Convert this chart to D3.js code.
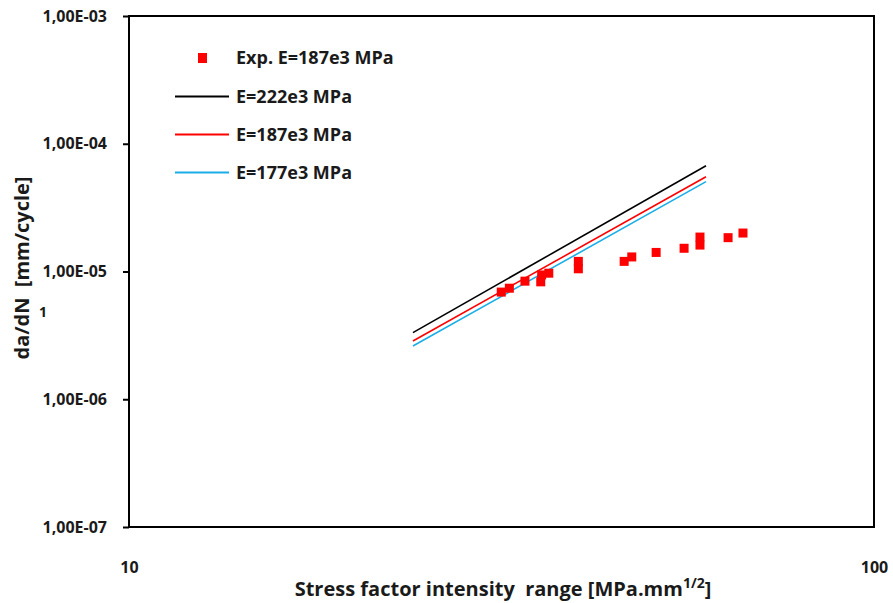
<!DOCTYPE html>
<html>
<head>
<meta charset="utf-8">
<script src="https://cdn.jsdelivr.net/npm/d3@7"></script>
<style>
  body { margin: 0; background: #fff; }
  text { font-family: "Open Sans", sans-serif; font-weight: bold; fill: #1a1a1a; }
</style>
</head>
<body>
<div id="chart"></div>
<script>
// experimental points (E=187e3 MPa)
var expK  = [31.6, 32.4, 34.0, 35.7, 35.8, 36.6, 40.1, 40.1, 46.2, 47.3, 51.0, 55.6, 58.4, 58.4, 63.7, 66.7];
var expDa = [6.9e-6, 7.4e-6, 8.4e-6, 8.3e-6, 9.4e-6, 9.7e-6, 1.05e-5, 1.2e-5, 1.2e-5, 1.3e-5, 1.41e-5, 1.52e-5, 1.61e-5, 1.86e-5, 1.84e-5, 2.0e-5];

// predicted curves (two ends, straight on log-log)
var curveK = [24.05, 59.5];
var curveNames = ["E=222e3 MPa", "E=187e3 MPa", "E=177e3 MPa"];
var curveColors = ["#000000", "#ff0000", "#1aaee8"];
var curveDa = [
  [3.32e-6, 6.73e-5],
  [2.86e-6, 5.52e-5],
  [2.61e-6, 5.05e-5]
];

var yTicks = [1e-7, 1e-6, 1e-5, 1e-4, 1e-3];
var xTicks = [10, 100];

var svg_width = 893;
var svg_height = 603;
var margins = { top: 16, bottom: 76, right: 19, left: 129 };
var width = svg_width - margins.left - margins.right;
var height = svg_height - margins.top - margins.bottom;

var svg = d3.select("#chart")
  .append("svg")
  .attr("width", svg_width)
  .attr("height", svg_height);

var g = svg.append("g")
  .attr("transform", "translate(" + margins.left + "," + margins.top + ")");

var x = d3.scaleLog().domain([10, 100]).range([0, width]);
var y = d3.scaleLog().domain([1e-7, 1e-3]).range([height, 0]);

// y axis ticks and labels
var yAxis = d3.axisLeft(y)
  .tickValues(yTicks)
  .tickSize(6)
  .tickPadding(16)
  .tickFormat(d => "1,00E-0" + Math.round(-Math.log10(d)));

var yG = g.append("g").call(yAxis);
yG.select(".domain").remove();
yG.selectAll("line").attr("stroke", "#000").attr("stroke-width", 2);
yG.selectAll("text").style("font-size", "16px").style("font-family", "Open Sans");

// x axis labels only (no tick marks)
var xAxis = d3.axisBottom(x)
  .tickValues(xTicks)
  .tickSize(0)
  .tickPadding(35)
  .tickFormat(d3.format("d"));

var xG = g.append("g").attr("transform", "translate(0," + height + ")").call(xAxis);
xG.select(".domain").remove();
xG.selectAll("text").style("font-size", "16px").style("font-family", "Open Sans");

// plot frame
g.append("rect")
  .attr("width", width)
  .attr("height", height)
  .attr("fill", "none")
  .attr("stroke", "#000")
  .attr("stroke-width", 2);

// curves
var line = d3.line().x(d => x(d[0])).y(d => y(d[1]));
curveDa.forEach(function(vals, i) {
  g.append("path")
    .datum(curveK.map((k, j) => [k, vals[j]]))
    .attr("d", line)
    .attr("fill", "none")
    .attr("stroke", curveColors[i])
    .attr("stroke-width", 1.6);
});

// experimental squares
var sq = 9;
g.append("g")
  .selectAll("rect")
  .data(expK.map((k, i) => [k, expDa[i]]))
  .enter()
  .append("rect")
  .attr("x", d => x(d[0]) - sq / 2)
  .attr("y", d => y(d[1]) - sq / 2)
  .attr("width", sq)
  .attr("height", sq)
  .attr("fill", "#ff0000");

// legend
var leg = svg.append("g");
leg.append("rect").attr("x", 198).attr("y", 53).attr("width", 9).attr("height", 10).attr("fill", "#ff0000");
leg.append("text").attr("x", 236).attr("y", 58).attr("dy", "0.35em")
  .style("font-size", "18px").text("Exp. E=187e3 MPa");
curveNames.forEach(function(name, i) {
  var ly = 96.5 + i * 38;
  leg.append("line")
    .attr("x1", 175).attr("x2", 229)
    .attr("y1", ly).attr("y2", ly)
    .attr("stroke", curveColors[i])
    .attr("stroke-width", 2);
  leg.append("text").attr("x", 236).attr("y", ly).attr("dy", "0.35em")
    .style("font-size", "18px").text(name);
});

// axis titles
var xt = svg.append("text")
  .attr("x", 503)
  .attr("y", 596)
  .attr("text-anchor", "middle")
  .style("font-size", "20px");
xt.append("tspan").text("Stress factor intensity\u00a0\u00a0range [MPa.mm");
xt.append("tspan").attr("dy", "-8").style("font-size", "14px").text("1/2");
xt.append("tspan").attr("dy", "8").text("]");

svg.append("text")
  .attr("transform", "translate(29,268) rotate(-90)")
  .attr("text-anchor", "middle")
  .style("font-size", "20px")
  .text("da/dN\u00a0\u00a0[mm/cycle]");

// stray "1" left of the axis in the original
svg.append("text")
  .attr("x", 43)
  .attr("y", 312)
  .attr("dy", "0.35em")
  .attr("text-anchor", "middle")
  .style("font-size", "14px")
  .text("1");
</script>
</body>
</html>
